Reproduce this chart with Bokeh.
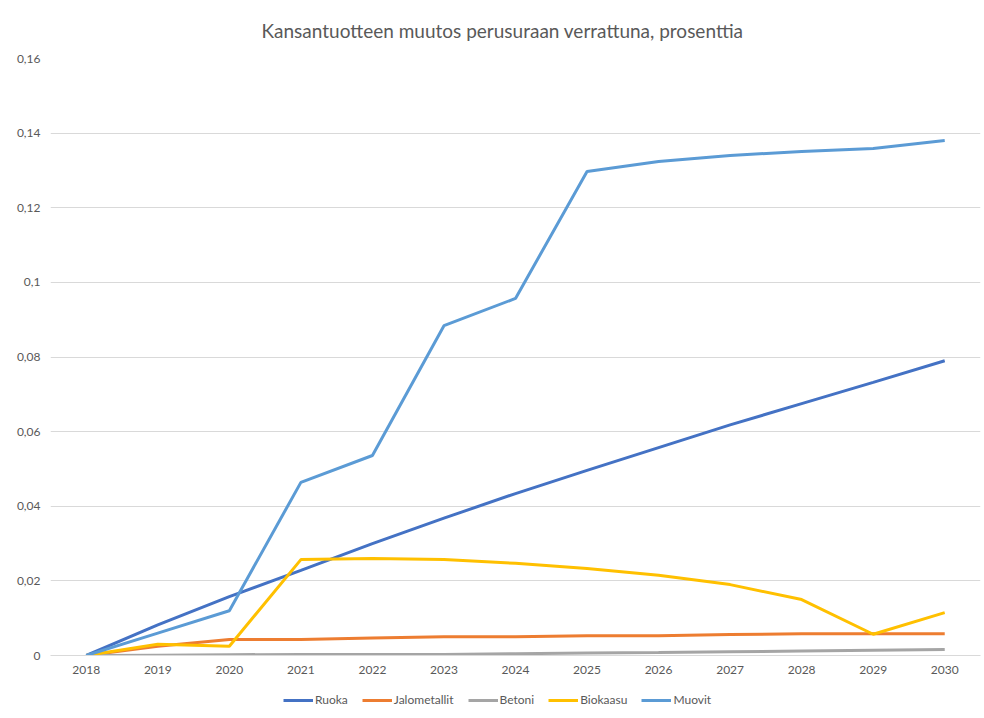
from bokeh.plotting import figure
from bokeh.models import Range1d, FixedTicker, Legend, LegendItem
from bokeh.layouts import column
from bokeh.core.properties import value
from bokeh.embed import file_html
from bokeh.resources import INLINE

years = list(range(2018, 2031))
ruoka = [0, 0.0082, 0.0158, 0.0228, 0.0300, 0.0368, 0.0434, 0.0496, 0.0557, 0.0618, 0.0675, 0.0732, 0.0790]
jalometallit = [0, 0.0025, 0.0043, 0.0043, 0.0047, 0.0050, 0.0050, 0.0053, 0.0053, 0.0056, 0.0058, 0.0058, 0.0058]
betoni = [0, 0.0001, 0.0002, 0.0003, 0.0003, 0.0003, 0.0005, 0.0007, 0.0008, 0.0010, 0.0012, 0.0014, 0.0016]
biokaasu = [0, 0.0030, 0.0025, 0.0257, 0.0260, 0.0257, 0.0247, 0.0233, 0.0215, 0.0190, 0.0150, 0.0057, 0.0115]
muovit = [0, 0.0060, 0.0120, 0.0464, 0.0536, 0.0884, 0.0957, 0.1297, 0.1324, 0.1340, 0.1351, 0.1359, 0.1380]

series_names = ["Ruoka", "Jalometallit", "Betoni", "Biokaasu", "Muovit"]
series_values = [ruoka, jalometallit, betoni, biokaasu, muovit]
colors = ["#4472C4", "#ED7D31", "#A5A5A5", "#FFC000", "#5B9BD5"]

y_ticks = [0, 0.02, 0.04, 0.06, 0.08, 0.1, 0.12, 0.14, 0.16]
y_tick_labels = ["0", "0,02", "0,04", "0,06", "0,08", "0,1", "0,12", "0,14", "0,16"]

title = "Kansantuotteen muutos perusuraan verrattuna, prosenttia"

FONT = "Lato"
TXT = "#595959"

# ---- title strip (frame aligned with main frame: pixels 50..980) ----
tf = figure(frame_width=930, height=46, output_backend="svg", toolbar_location=None,
            x_range=Range1d(50, 980), y_range=Range1d(0, 46),
            x_axis_type=None, y_axis_type=None,
            min_border=0, min_border_left=50, min_border_right=2,
            min_border_top=0, min_border_bottom=0)
tf.grid.visible = False
tf.outline_line_color = None
tf.text(x=[502], y=[16], text=[title], text_font=value(FONT),
        text_font_size=value("19px"), text_color=TXT,
        text_align="center", text_baseline="middle")

# ---- main chart ----
p = figure(frame_width=930, frame_height=597, output_backend="svg", toolbar_location=None,
           x_range=Range1d(years[0] - 0.5, years[-1] + 0.5),
           y_range=Range1d(0, 0.16),
           min_border_left=50, min_border_right=2, min_border_top=12, min_border_bottom=0)

p.outline_line_color = None
p.background_fill_color = "white"
p.border_fill_color = "white"

p.xaxis.ticker = FixedTicker(ticks=years)
p.yaxis.ticker = FixedTicker(ticks=y_ticks)
p.yaxis.major_label_overrides = {t: l for t, l in zip(y_ticks, y_tick_labels)}

for ax in (p.xaxis, p.yaxis):
    ax.major_tick_line_color = None
    ax.minor_tick_line_color = None
    ax.major_tick_in = 0
    ax.major_tick_out = 0
    ax.axis_label = None
    ax.major_label_text_font = FONT
    ax.major_label_text_font_size = "12px"
    ax.major_label_text_color = TXT
p.yaxis.axis_line_color = None
p.xaxis.axis_line_color = "#D9D9D9"
p.yaxis.major_label_standoff = 10
p.xaxis.major_label_standoff = 10

p.xgrid.grid_line_color = None
p.ygrid.grid_line_color = "#D9D9D9"
p.ygrid.grid_line_width = 1

for name, vals, c in zip(series_names, series_values, colors):
    p.line(years, vals, line_color=c, line_width=3)

# ---- legend strip (series drawn off-view so only legend glyphs show) ----
lf = figure(frame_width=930, height=40, output_backend="svg", toolbar_location=None,
            x_range=Range1d(0, 1), y_range=Range1d(0, 1),
            x_axis_type=None, y_axis_type=None,
            min_border=0, min_border_left=50, min_border_right=2,
            min_border_top=0, min_border_bottom=0)
lf.grid.visible = False
lf.outline_line_color = None
items = []
for name, vals, c in zip(series_names, series_values, colors):
    r = lf.line(years, vals, line_color=c, line_width=3)
    items.append(LegendItem(label=name, renderers=[r]))

legend = Legend(items=items, orientation="horizontal", location=(233, 9),
                border_line_color=None, background_fill_alpha=0,
                label_text_font=FONT, label_text_font_size="12px",
                label_text_color=TXT, glyph_width=30, glyph_height=12,
                label_height=12, spacing=14,
                label_standoff=2, padding=0, margin=0)
lf.add_layout(legend, "center")

layout = column(tf, p, lf, spacing=0)
open("out.html", "w").write(file_html(layout, INLINE))
